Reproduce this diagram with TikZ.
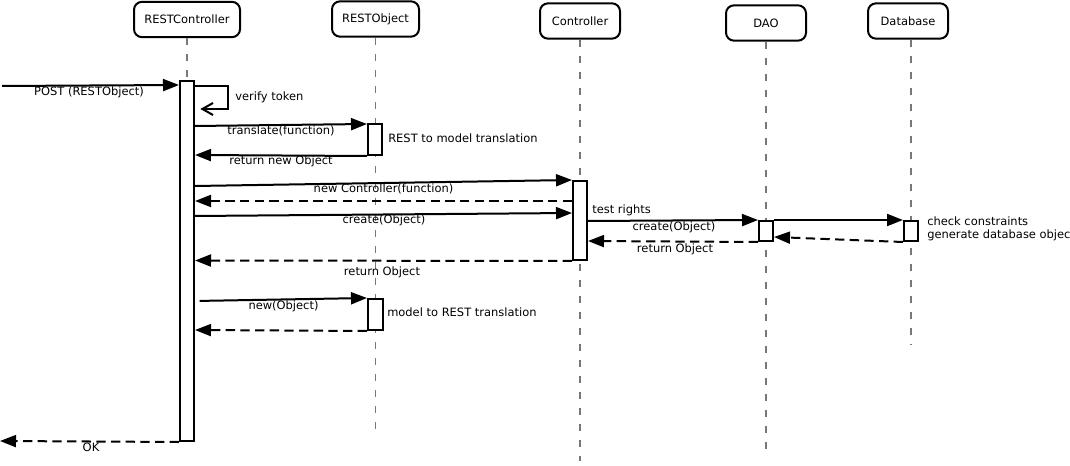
\documentclass[tikz,border=0pt]{standalone}
\usepackage{fontspec}
\setmainfont{DejaVu Sans}
\usetikzlibrary{arrows.meta}
\definecolor{lifegray}{RGB}{120,120,120}
\begin{document}
\begin{tikzpicture}[x=0.75pt,y=-0.75pt,
  font=\fontsize{8.6pt}{9.75pt}\selectfont,
  head/.style={draw, line width=1.5pt, rounded corners=6pt, fill=white, inner sep=0pt, minimum height=26.5pt},
  life/.style={draw=lifegray, line width=1pt, dash pattern=on 5.25pt off 6.75pt},
  actbar/.style={draw, line width=1.5pt, fill=white, inner sep=0pt, minimum width=10.5pt},
  msg/.style={line width=1.5pt, -{Triangle[length=12pt,width=9pt]}},
  ret/.style={msg, dash pattern=on 7pt off 4pt},
  lbl/.style={inner sep=0pt}
]
\useasboundingbox (0,0) rectangle (1070,466);

% lifeline heads
\node[head, minimum width=79.5pt] (rc) at (187,19.5) {RESTController};
\node[head, minimum width=65.25pt] (ro) at (375.5,19) {RESTObject};
\node[head, minimum width=60pt] (ct) at (580,21) {Controller};
\node[head, minimum width=60pt] (da) at (766,23) {DAO};
\node[head, minimum width=60pt] (db) at (908,21) {Database};

% lifelines
\coordinate (rcEnd) at (187,441);
\coordinate (roEnd) at (375.5,432);
\coordinate (ctEnd) at (580,461);
\coordinate (daEnd) at (766,457);
\coordinate (dbEnd) at (911,344);
\draw[life] (rc.south) -- (rcEnd);
\draw[life] (ro.south) -- (roEnd);
\draw[life] (ct.south) -- (ctEnd);
\draw[life] (da.south) -- (daEnd);
\draw[life] (db.south -| dbEnd) -- (dbEnd);

% activation bars
\node[actbar, minimum height=270pt] (rcA) at (187,261) {};
\node[actbar, minimum height=23.25pt] (roA) at (375,139.5) {};
\node[actbar, minimum height=23.25pt, minimum width=11.25pt] (roB) at (375.5,314.5) {};
\node[actbar, minimum height=59.25pt] (ctA) at (580,220.5) {};
\node[actbar, minimum height=15pt] (daA) at (766,231) {};
\node[actbar, minimum height=15pt] (dbA) at (911,231) {};

% messages
\coordinate (client) at (2,86);
\draw[msg] (client) -- (rcA.west |- 0,85);
\node[lbl] (lPost) at (89,92) {POST (RESTObject)};

\draw[line width=1.5pt, -{Straight Barb[length=8pt,width=9pt]}, shorten >=4pt]
  (rcA.east |- 0,86) -- (228,86) -- (228,109) -- (rcA.east |- 0,109);
\node[lbl, anchor=west] (lVerify) at (235,97) {verify token};

\draw[msg] (rcA.east |- 0,126) -- (roA.west |- 0,124);
\node[lbl] (lTrans) at (281,131) {translate(function)};
\node[lbl, anchor=west] (lRtm) at (388,138) {REST to model translation};

\draw[msg] (roA.south west) -- (rcA.east |- 0,155);
\node[lbl] (lRetNew) at (281,161) {return new Object};

\draw[msg] (rcA.east |- 0,186) -- (ctA.north west);
\node[lbl] (lNewCt) at (383.5,189) {new Controller(function)};

\draw[ret] (ctA.west |- 0,201) -- (rcA.east |- 0,201);

\draw[msg] (rcA.east |- 0,216) -- (ctA.west |- 0,213);
\node[lbl] (lCreate1) at (384,220) {create(Object)};
\node[lbl, anchor=west] (lTest) at (592,210) {test rights};

\draw[msg] (ctA.east |- 0,221) -- (daA.north west);
\node[lbl] (lCreate2) at (674,227) {create(Object)};

\draw[msg] (daA.north east) -- (dbA.north west);
\node[lbl, anchor=west, align=left] (lCheck) at (927,228.5) {check constraints\\generate database object};

\draw[ret] (dbA.south west) -- (daA.east |- 0,237);
\draw[ret] (daA.south west) -- (ctA.east |- 0,241);
\node[lbl] (lRet2) at (675,249) {return Object};

\draw[ret] (ctA.south west) -- (rcA.east |- 0,260.5);
\node[lbl] (lRet1) at (382,272) {return Object};

\draw[msg, shorten <=3.5pt] (rcA.east |- 0,301) -- (roB.north west);
\node[lbl] (lNewObj) at (283.5,306) {new(Object)};
\node[lbl, anchor=west] (lMtr) at (387,312) {model to REST translation};

\draw[ret] (roB.south west) -- (rcA.east |- 0,330);

\coordinate (clientEnd) at (0,441);
\draw[ret] (rcA.south west) -- (clientEnd);
\node[lbl] (lOk) at (91,447) {OK};
\end{tikzpicture}
\end{document}
